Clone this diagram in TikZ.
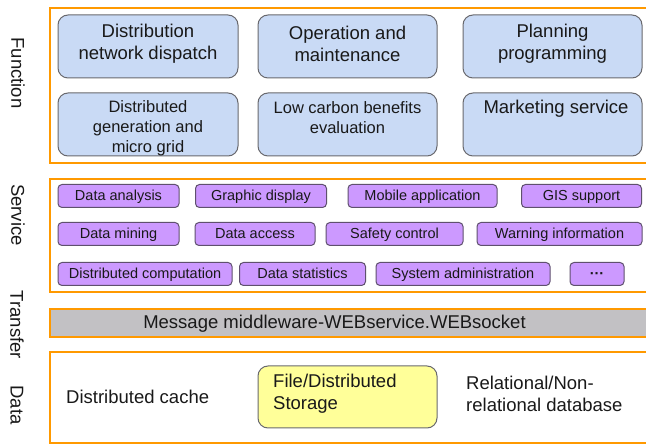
\documentclass[tikz,border=0pt]{standalone}
\usepackage{fontspec}
\setmainfont{Liberation Sans}
\definecolor{frameorange}{RGB}{255,153,0}
\definecolor{funcfill}{RGB}{201,218,245}
\definecolor{funcline}{RGB}{105,105,110}
\definecolor{servfill}{RGB}{204,153,255}
\definecolor{servline}{RGB}{95,80,110}
\definecolor{transfill}{RGB}{194,193,196}
\definecolor{storefill}{RGB}{255,255,153}
\definecolor{inktext}{RGB}{25,25,25}
\tikzset{
  layerframe/.style={draw=frameorange, line width=2.5pt, fill=white},
  funcbox/.style={draw=funcline, line width=1pt, fill=funcfill, rounded corners=10pt,
    inner sep=0pt},
  functext/.style={text=inktext, align=center, font=\fontsize{18.5}{22}\selectfont, inner sep=0pt},
  funcsmall/.style={text=inktext, align=center, font=\fontsize{16.5}{20}\selectfont, inner sep=0pt},
  servbox/.style={draw=servline, line width=1pt, fill=servfill, rounded corners=4pt,
    inner sep=0pt, text height=11.5pt, text depth=2.5pt, text=inktext,
    font=\fontsize{14.5}{17}\selectfont},
  plaintext/.style={text=inktext, align=left, font=\fontsize{18.5}{22}\selectfont, inner sep=0pt},
  sidelabel/.style={text=inktext, rotate=-90, font=\fontsize{18.5}{22}\selectfont, inner sep=0pt}
}
\begin{document}
\begin{tikzpicture}[x=1pt, y=-1pt]
\useasboundingbox (0,0) rectangle (646,446);
\clip (0,0) rectangle (646,446);
\fill[white] (0,0) rectangle (646,446);

% layer frames, open to the right
\draw[layerframe] (50,8) rectangle (670,163);
\draw[layerframe] (50,179) rectangle (670,292);
\draw[layerframe, fill=transfill] (50,309) rectangle (670,337);
\draw[layerframe] (50,352) rectangle (670,443);

% side labels
\node[sidelabel] (lfunc) at (18,73) {Function};
\node[sidelabel] (lserv) at (18,215) {Service};
\node[sidelabel] (ltrans) at (17,325) {Transfer};
\node[sidelabel] (ldata) at (17,405) {Data};

% function layer
\node[funcbox, minimum width=180pt, minimum height=63pt] (f1) at (148,46.5) {};
\node[funcbox, minimum width=179pt, minimum height=63pt] (f2) at (347.5,46.5) {};
\node[funcbox, minimum width=179pt, minimum height=63pt] (f3) at (552.5,46.5) {};
\node[funcbox, minimum width=180pt, minimum height=63pt] (f4) at (148,124.5) {};
\node[funcbox, minimum width=179pt, minimum height=63pt] (f5) at (347.5,124.5) {};
\node[funcbox, minimum width=179pt, minimum height=63pt] (f6) at (552.5,124.5) {};
\node[functext] (f1t) at (148,44) {Distribution\\network dispatch};
\node[functext] (f2t) at (347.5,44) {Operation and\\maintenance};
\node[functext] (f3t) at (552.5,44) {Planning\\programming};
\node[funcsmall] (f4t) at (148,128) {Distributed\\generation and\\micro grid};
\node[funcsmall] (f5t) at (347.5,118) {Low carbon benefits\\evaluation};
\node[functext] (f6t) at (556,108.5) {Marketing service};

% service layer
\node[servbox, minimum width=121pt, minimum height=23pt] (s1) at (118.5,196) {Data analysis};
\node[servbox, minimum width=131pt, minimum height=23pt] (s2) at (261,196) {Graphic display};
\node[servbox, minimum width=149pt, minimum height=23pt] (s3) at (422.5,196) {Mobile application};
\node[servbox, minimum width=120pt, minimum height=23pt] (s4) at (581.5,196) {GIS support};
\node[servbox, minimum width=121pt, minimum height=23pt] (s5) at (118.5,234) {Data mining};
\node[servbox, minimum width=120pt, minimum height=23pt] (s6) at (255,234) {Data access};
\node[servbox, minimum width=137pt, minimum height=23pt] (s7) at (394.5,234) {Safety control};
\node[servbox, minimum width=165pt, minimum height=23pt] (s8) at (559.5,234) {Warning information};
\node[servbox, minimum width=174pt, minimum height=23pt] (s9) at (145,274) {Distributed computation};
\node[servbox, minimum width=126pt, minimum height=23pt] (s10) at (302.5,274) {Data statistics};
\node[servbox, minimum width=174pt, minimum height=23pt] (s11) at (463,274) {System administration};
\node[servbox, minimum width=54pt, minimum height=23pt] (s12) at (597,274) {\textbf{···}};

% transfer layer
\node[functext] (tmsg) at (334.5,323.5) {Message middleware-WEBservice.WEBsocket};

% data layer
\node[plaintext, anchor=west] (dcache) at (66,397) {Distributed cache};
\node[funcbox, fill=storefill, minimum width=179pt, minimum height=62pt] (dstore) at (347.5,397) {};
\node[plaintext, anchor=west] (dstoret) at (273,394) {File/Distributed\\Storage};
\node[plaintext, anchor=west] (ddb) at (466,394) {Relational/Non-\\relational database};
\end{tikzpicture}
\end{document}
